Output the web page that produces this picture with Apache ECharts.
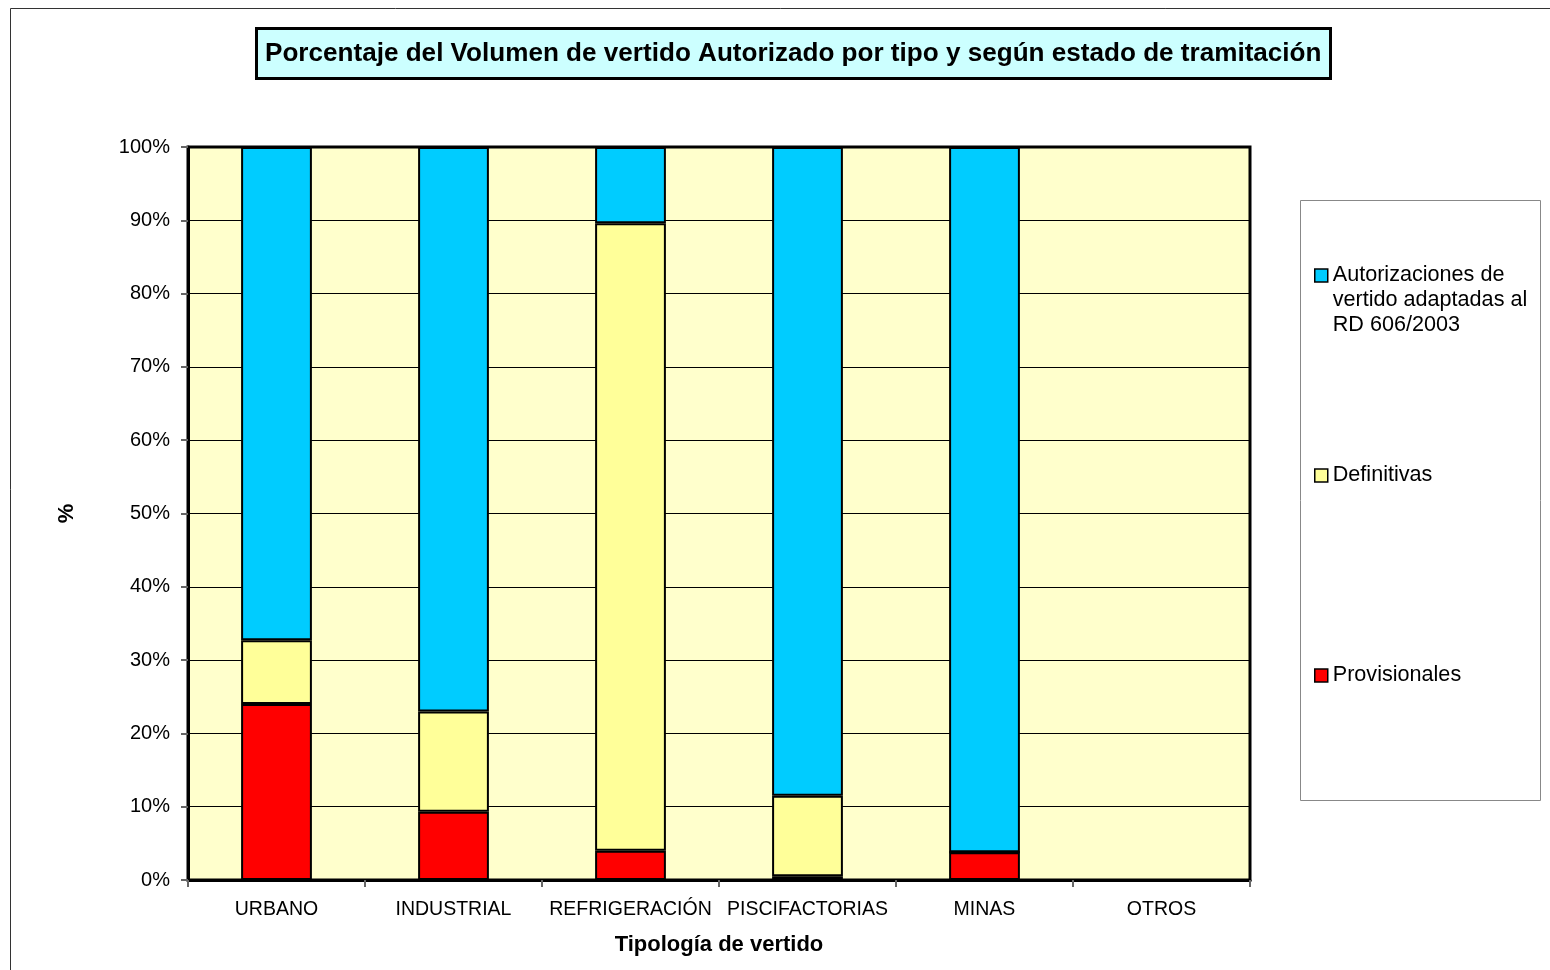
<!DOCTYPE html>
<html lang="es">
<head>
    <meta charset="UTF-8">
    <title>volumen-vertido</title>
    <script src="https://cdn.jsdelivr.net/npm/echarts@6.0.0/dist/echarts.min.js"></script>
    <style>
        html, body { margin: 0; padding: 0; background: #fff; }
    </style>
</head>
<body>
<div id="main" style="width: 1550px;height:970px;"></div>
<script>
    // datos (% del volumen autorizado)
    var categorias = ["URBANO", "INDUSTRIAL", "REFRIGERACIÓN", "PISCIFACTORIAS", "MINAS", "OTROS"];
    var provisionales = [24.0, 9.3, 4.0, 0.5, 3.8, 0];
    var definitivas = [8.7, 13.7, 85.6, 11.0, 0, 0];
    var autorizaciones = [67.3, 77.0, 10.4, 88.5, 96.2, 0];

    var FONT = "Liberation Sans, Arial, sans-serif";
    var chart = echarts.init(document.getElementById("main"));

    var barStyle = function (color) {
        return {color: color, borderColor: '#000', borderWidth: 2};
    };
    var legendText = {fontFamily: FONT, fontSize: 21.6, color: '#000', lineHeight: 25};
    var legendBase = {
        left: 1314, padding: 0, icon: 'rect',
        itemWidth: 13, itemHeight: 13, itemGap: 6,
        itemStyle: {borderColor: '#000', borderWidth: 1.5},
        textStyle: legendText
    };

    option = {
        backgroundColor: '#fff',
        animation: false,
        title: {
            text: 'Porcentaje del Volumen de vertido Autorizado por tipo y según estado de tramitación',
            left: 256,
            top: 28,
            padding: [11, 9, 10, 9],
            backgroundColor: '#CCFFFF',
            borderColor: '#000',
            borderWidth: 3,
            textStyle: {fontFamily: FONT, fontSize: 26.1, fontWeight: 'bold', color: '#000', lineHeight: 30}
        },
        graphic: [
            {   // marco exterior
                type: 'rect', silent: true, z: -1,
                shape: {x: 10.5, y: 8.5, width: 1700, height: 1100},
                style: {fill: 'none', stroke: '#333', lineWidth: 1}
            },
            {   // caja de la leyenda
                type: 'rect', silent: true, z: -1,
                shape: {x: 1300.5, y: 200.5, width: 240, height: 600},
                style: {fill: '#fff', stroke: '#888', lineWidth: 1}
            }
        ],
        legend: [
            Object.assign({}, legendBase, {
                data: ['Autorizaciones de vertido adaptadas al RD 606/2003'],
                top: 213,
                // dos líneas vacías delante para que el icono quede en la primera línea
                formatter: function () { return ' \n \nAutorizaciones de\nvertido adaptadas al\nRD 606/2003'; }
            }),
            Object.assign({}, legendBase, {data: ['Definitivas'], top: 463}),
            Object.assign({}, legendBase, {data: ['Provisionales'], top: 663})
        ],
        grid: {
            left: 188, top: 147, right: 300, bottom: 90,
            show: true,
            backgroundColor: '#FFFFCC',
            borderColor: '#000',
            borderWidth: 3
        },
        xAxis: {
            type: 'category',
            data: categorias,
            name: 'Tipología de vertido',
            nameLocation: 'middle',
            nameGap: 54,
            nameTextStyle: {fontFamily: FONT, fontSize: 22, fontWeight: 'bold', color: '#000'},
            axisLine: {lineStyle: {color: '#000', width: 3}},
            axisTick: {show: true, interval: 0, length: 7, lineStyle: {color: '#666', width: 2}},
            axisLabel: {fontFamily: FONT, fontSize: 19.5, color: '#000', margin: 20, interval: 0}
        },
        yAxis: {
            type: 'value',
            min: 0, max: 100, interval: 10,
            name: '%',
            nameLocation: 'middle',
            nameGap: 110,
            nameTextStyle: {fontFamily: FONT, fontSize: 22, fontWeight: 'bold', color: '#000'},
            axisLine: {show: true, lineStyle: {color: '#000', width: 3}},
            axisTick: {show: true, length: 7, lineStyle: {color: '#666', width: 2}},
            axisLabel: {fontFamily: FONT, fontSize: 20, color: '#000', margin: 18, formatter: '{value}%'},
            splitLine: {lineStyle: {color: '#000', width: 1}}
        },
        series: [
            {
                name: 'Provisionales', type: 'bar', stack: 'total',
                barWidth: '40%', itemStyle: barStyle('#FF0000'),
                data: provisionales
            },
            {
                name: 'Definitivas', type: 'bar', stack: 'total',
                barWidth: '40%', itemStyle: barStyle('#FFFF99'),
                data: definitivas
            },
            {
                name: 'Autorizaciones de vertido adaptadas al RD 606/2003', type: 'bar', stack: 'total',
                barWidth: '40%', itemStyle: barStyle('#00CCFF'),
                data: autorizaciones
            }
        ]
    };
    chart.setOption(option);
</script>
</body>
</html>
